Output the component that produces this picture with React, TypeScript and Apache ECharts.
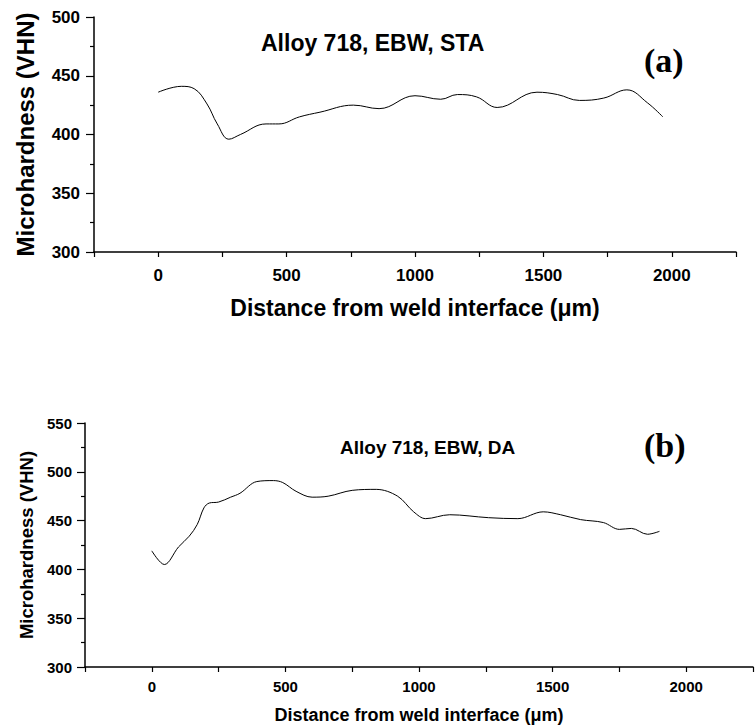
import React, { useEffect, useRef } from "react";
import * as echarts from "echarts";

// Panel (a): Alloy 718, EBW, STA
const distA = [0, 90, 140, 190, 230, 275, 320, 420, 470, 550, 630, 760, 860, 1000, 1100, 1165, 1240, 1320, 1475, 1555, 1640, 1735, 1825, 1905, 1965];
const hardA = [436, 441, 439, 426, 409, 396, 400, 409, 409, 415, 419, 425, 422, 433, 430, 434, 432, 423, 436, 434, 429, 431, 438, 427, 415];

// Panel (b): Alloy 718, EBW, DA
const distB = [0, 47, 100, 140, 170, 195, 215, 250, 295, 330, 393, 455, 490, 540, 600, 660, 750, 840, 920, 980, 1025, 1115, 1260, 1370, 1465, 1530, 1605, 1690, 1750, 1795, 1855, 1900];
const hardB = [419, 405, 423, 434, 446, 463, 468, 469, 474, 478, 490, 491, 489, 480, 474, 475, 481, 482, 475, 459, 452, 456, 453, 452, 459, 456, 451, 448, 441, 442, 436, 439];

const xTickLabels = [0, 500, 1000, 1500, 2000];
const titleA = "Alloy 718, EBW, STA";
const titleB = "Alloy 718, EBW, DA";
const yName = "Microhardness (VHN)";
const xName = "Distance from weld interface (\u03bcm)";

const FONT = "'Liberation Sans', Arial, sans-serif";

export default function App() {
  const ref = useRef<HTMLDivElement>(null);
  useEffect(() => {
    if (!ref.current) return;
    const chart = echarts.init(ref.current, undefined, { renderer: "svg" });
    const axisLine = { show: true, onZero: false, lineStyle: { color: "#000", width: 1.5 } };
    const xAxisCommon = (labelSize: number, nameSize: number, nameGap: number, margin: number, gridIndex: number) => ({
      type: "value",
      gridIndex,
      min: -250,
      max: 2250,
      interval: 250,
      axisLine,
      axisTick: { show: true, length: 5, lineStyle: { color: "#000", width: 1.2 } },
      splitLine: { show: false },
      axisLabel: {
        margin,
        color: "#000",
        fontFamily: FONT,
        fontWeight: "bold",
        fontSize: labelSize,
        showMinLabel: true,
        showMaxLabel: true,
        formatter: (v: number) => (xTickLabels.indexOf(v) >= 0 ? String(v) : ""),
      },
      name: xName,
      nameLocation: "middle",
      nameGap,
      nameTextStyle: { color: "#000", fontFamily: FONT, fontWeight: "bold", fontSize: nameSize },
    });
    const yAxisCommon = (min: number, max: number, labelSize: number, nameSize: number, nameGap: number, margin: number, gridIndex: number) => ({
      type: "value",
      gridIndex,
      min,
      max,
      interval: 50,
      axisLine,
      axisTick: { show: true, length: 8, lineStyle: { color: "#000", width: 1.2 } },
      minorTick: { show: true, splitNumber: 2, length: 4, lineStyle: { color: "#000", width: 1.2 } },
      splitLine: { show: false },
      minorSplitLine: { show: false },
      axisLabel: { margin, color: "#000", fontFamily: FONT, fontWeight: "bold", fontSize: labelSize },
      name: yName,
      nameLocation: "middle",
      nameGap,
      nameTextStyle: { color: "#000", fontFamily: FONT, fontWeight: "bold", fontSize: nameSize },
    });
    chart.setOption({
      animation: false,
      backgroundColor: "#fff",
      grid: [
        { left: 94, top: 17, width: 642, height: 235 },
        { left: 85, top: 423, width: 681, height: 244 },
      ],
      xAxis: [xAxisCommon(17, 23, 44, 15, 0), xAxisCommon(15, 18, 39, 12, 1)],
      yAxis: [yAxisCommon(300, 500, 17, 24, 57, 14, 0), yAxisCommon(300, 550, 15, 18.5, 48, 13, 1)],
      series: [
        {
          type: "line",
          xAxisIndex: 0,
          yAxisIndex: 0,
          data: distA.map((d, i) => [d, hardA[i]]),
          smooth: 0.4,
          showSymbol: false,
          lineStyle: { color: "#000", width: 1 },
        },
        {
          type: "line",
          xAxisIndex: 1,
          yAxisIndex: 1,
          data: distB.map((d, i) => [d, hardB[i]]),
          smooth: 0.35,
          showSymbol: false,
          lineStyle: { color: "#000", width: 1 },
        },
      ],
      graphic: [
        { type: "text", left: 261, top: 31, style: { text: titleA, fill: "#000", font: `bold 23px ${FONT}` } },
        { type: "text", left: 644, top: 43, style: { text: "(a)", fill: "#000", font: "bold 34px 'Liberation Serif', 'Times New Roman', serif" } },
        { type: "text", left: 340, top: 438, style: { text: titleB, fill: "#000", font: `bold 19px ${FONT}` } },
        { type: "text", left: 644, top: 428, style: { text: "(b)", fill: "#000", font: "bold 34px 'Liberation Serif', 'Times New Roman', serif" } },
      ],
    });
    return () => chart.dispose();
  }, []);
  return <div ref={ref} style={{ position: "fixed", left: 0, top: 0, width: 756, height: 725 }} />;
}
